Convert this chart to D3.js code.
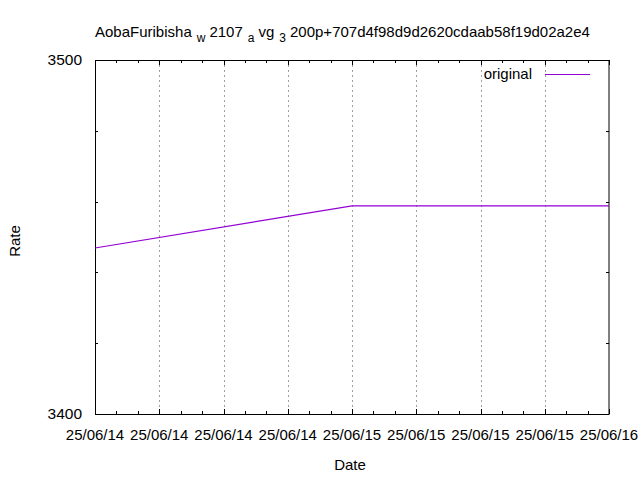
<!DOCTYPE html>
<html><head><meta charset="utf-8">
<script src="https://cdn.jsdelivr.net/npm/d3@7"></script>
<style>body{margin:0;background:#fff}svg{display:block}text,tspan{font-family:"Liberation Sans",Arial,sans-serif;fill:#000}</style>
</head><body><svg id="c" width="640" height="480"></svg>
<script>
const dates = ["2025-06-14T00:00", "2025-06-15T00:00", "2025-06-16T00:00"];
const rates = [3446.9, 3458.8, 3458.8];
const yTicks = [3400, 3500];
const seriesName = "original";
const titleParts = [["AobaFuribisha",0],["w",1],["2107",0],["a",1],["vg",0],["3",1],["200p+707d4f98d9d2620cdaab58f19d02a2e4",0]];

const parse = d3.timeParse("%Y-%m-%dT%H:%M");
const data = dates.map((d,i)=>({t:parse(d), v:rates[i]}));
const svg = d3.select("#c");
const L=95,R=609,T=60,B=414;
const x = d3.scaleTime().domain([parse("2025-06-14T00:00"), parse("2025-06-16T00:00")]).range([L,R]);
const y = d3.scaleLinear().domain([3400,3500]).range([B,T]);
const fs = 15;

const majorX = d3.timeHour.every(6).range(x.domain()[0], new Date(+x.domain()[1]+1));
const minorX = d3.timeHour.every(2).range(x.domain()[0], new Date(+x.domain()[1]+1));
const minorY = d3.range(3400,3501,20);

// grid
svg.append("g").selectAll("line").data(majorX.slice(1,-1)).join("line")
  .attr("x1",d=>Math.round(x(d))+0.5).attr("x2",d=>Math.round(x(d))+0.5)
  .attr("y1",T).attr("y2",B).attr("stroke","#a0a0a0").attr("stroke-width",1).attr("stroke-dasharray","2,3");

// ticks
const tg = svg.append("g").attr("stroke","#000").attr("stroke-width",1);
minorX.forEach(d=>{const px=Math.round(x(d))+0.5;
  const len = majorX.some(m=>+m===+d)?5:3;
  tg.append("line").attr("x1",px).attr("x2",px).attr("y1",B).attr("y2",B-len);
  tg.append("line").attr("x1",px).attr("x2",px).attr("y1",T).attr("y2",T+len);
});
minorY.forEach(v=>{const py=Math.round(y(v))+0.5;
  const len = yTicks.includes(v)?5:3;
  tg.append("line").attr("x1",L).attr("x2",L+len).attr("y1",py).attr("y2",py);
  tg.append("line").attr("x1",R).attr("x2",R-len).attr("y1",py).attr("y2",py);
});
// border
svg.append("rect").attr("x",L+0.5).attr("y",T+0.5).attr("width",R-L-0.5).attr("height",B-T)
  .attr("fill","none").attr("stroke","#000").attr("stroke-width",1);

// tick labels
const fmt = d3.timeFormat("%y/%m/%d");
svg.append("g").selectAll("text").data(majorX).join("text")
  .attr("x",d=>x(d)).attr("y",440).attr("text-anchor","middle").attr("font-size",fs).text(d=>fmt(d));
svg.append("g").selectAll("text").data(yTicks).join("text")
  .attr("x",82).attr("y",d=>y(d)+5).attr("text-anchor","end").attr("font-size",15.5).text(d=>d);

// line
svg.append("path").datum(data).attr("fill","none").attr("stroke","#9400d3").attr("stroke-width",1.2)
  .attr("d", d3.line().x(d=>x(d.t)).y(d=>y(d.v)));

// legend
svg.append("text").attr("x",532).attr("y",79).attr("text-anchor","end").attr("font-size",fs).text(seriesName);
svg.append("line").attr("x1",545).attr("x2",590).attr("y1",74.5).attr("y2",74.5).attr("stroke","#9400d3").attr("stroke-width",1.2);

// axis titles
svg.append("text").attr("x",350).attr("y",470).attr("text-anchor","middle").attr("font-size",fs).text("Date");
svg.append("text").attr("transform","translate(20,241) rotate(-90)").attr("text-anchor","middle").attr("font-size",fs).text("Rate");

// title
const tt = svg.append("text").attr("x",95).attr("y",37).attr("font-size",fs);
titleParts.forEach(([s,sub],i)=>{
  const ts = tt.append("tspan").attr("fill","#000").text(s);
  if(sub){ ts.attr("font-size",fs*0.8).attr("dy",5).attr("dx",5); }
  else if(i>0){ ts.attr("dy",-5).attr("dx",4); }
});
</script></body></html>
